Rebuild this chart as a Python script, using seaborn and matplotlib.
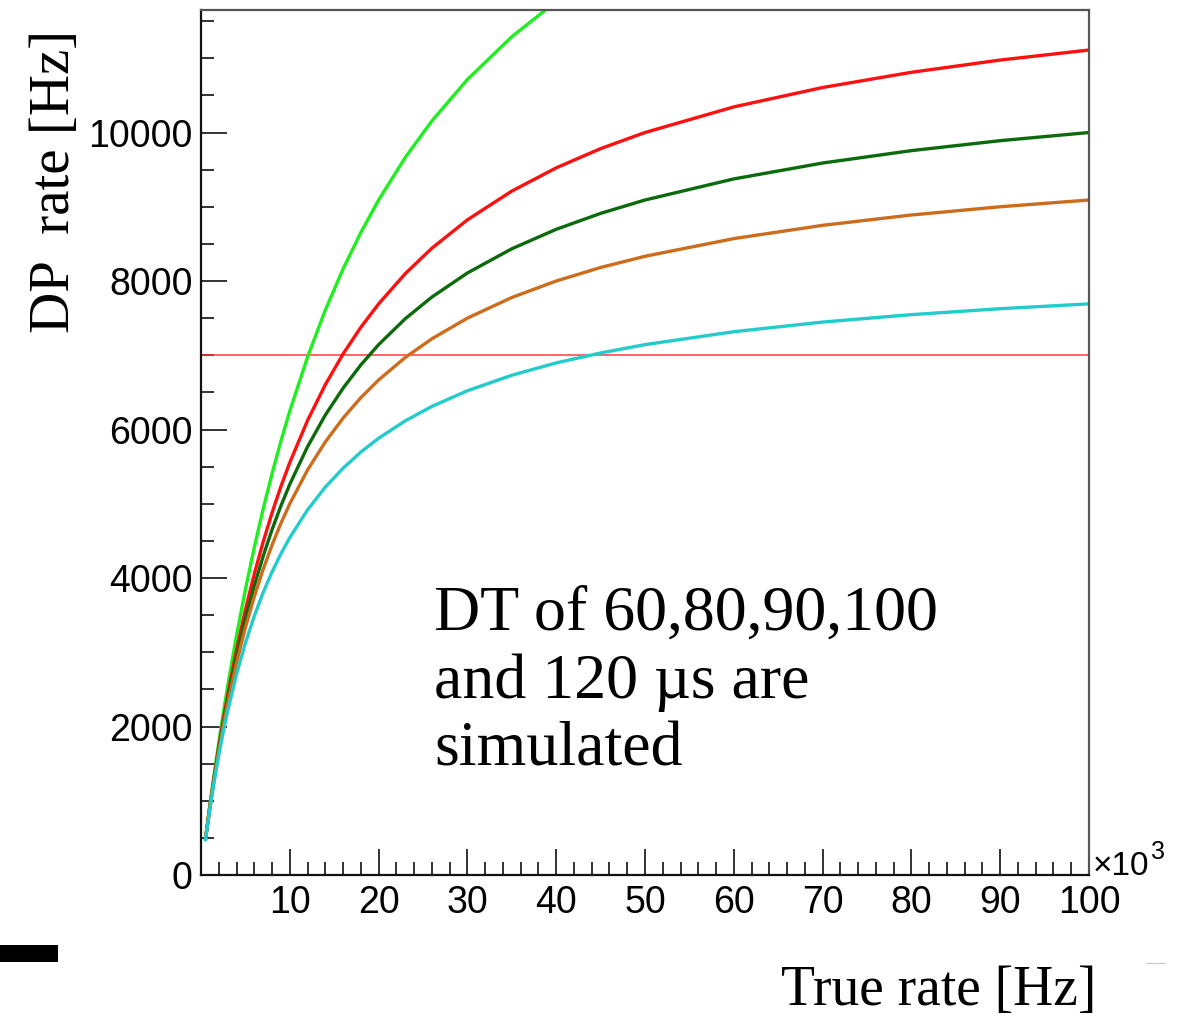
import matplotlib
matplotlib.use("Agg")
import matplotlib.pyplot as plt
from matplotlib.patches import Rectangle
from matplotlib.lines import Line2D
from matplotlib.ticker import FixedLocator
import seaborn as sns
import pandas as pd

# True rate (x 10^3 Hz)
true_rate_k = [0.5, 1, 1.5, 2, 2.5, 3, 4, 5, 6, 7, 8, 9, 10, 12, 14, 16, 18, 20, 23, 26,
               30, 35, 40, 45, 50, 60, 70, 80, 90, 100]

# DP rate [Hz]
dt_60 = [485, 943, 1376, 1786, 2174, 2542, 3226, 3846, 4412, 4930, 5405, 5844, 6250, 6977,
         7609, 8163, 8654, 9091, 9664, 10156, 10714, 11290, 11765, 12162, 12500, 13043,
         13462, 13793, 14063, 14286]
dt_80 = [481, 926, 1339, 1724, 2083, 2419, 3030, 3571, 4054, 4487, 4878, 5233, 5556, 6122,
         6604, 7018, 7377, 7692, 8099, 8442, 8824, 9211, 9524, 9783, 10000, 10345, 10606,
         10811, 10976, 11111]
dt_90 = [478, 917, 1322, 1695, 2041, 2362, 2941, 3448, 3896, 4294, 4651, 4972, 5263, 5769,
         6195, 6557, 6870, 7143, 7492, 7784, 8108, 8434, 8696, 8911, 9091, 9375, 9589, 9756,
         9890, 10000]
dt_100 = [476, 909, 1304, 1667, 2000, 2308, 2857, 3333, 3750, 4118, 4444, 4737, 5000, 5455,
          5833, 6154, 6429, 6667, 6970, 7222, 7500, 7778, 8000, 8182, 8333, 8571, 8750, 8889,
          9000, 9091]
dt_120 = [472, 893, 1271, 1613, 1923, 2206, 2703, 3125, 3488, 3804, 4082, 4327, 4545, 4918,
          5224, 5479, 5696, 5882, 6117, 6311, 6522, 6731, 6897, 7031, 7143, 7317, 7447, 7547,
          7627, 7692]

dt_labels = ["60 us", "80 us", "90 us", "100 us", "120 us"]
dt_series = [dt_60, dt_80, dt_90, dt_100, dt_120]
dt_colors = ["#1fef1f", "#ff1010", "#0b6a0b", "#cc6c1c", "#22cccc"]

threshold = 7000

y_major = [0, 2000, 4000, 6000, 8000, 10000]
x_major = [10, 20, 30, 40, 50, 60, 70, 80, 90, 100]

rows = []
for lab, ys in zip(dt_labels, dt_series):
    for x, y in zip(true_rate_k, ys):
        rows.append({"x": x, "y": y, "dt": lab})
df = pd.DataFrame(rows)

sns.set_style("ticks")
plt.rcParams["font.family"] = ["Liberation Sans", "DejaVu Sans"]
plt.rcParams["text.color"] = "black"

W, H = 1197, 1017
fig = plt.figure(figsize=(W / 100, H / 100), dpi=100)
fig.patch.set_facecolor("white")
ax = fig.add_axes([201 / W, (H - 875) / H, (1089 - 201) / W, (875 - 10) / H])

sns.lineplot(data=df, x="x", y="y", hue="dt", palette=dict(zip(dt_labels, dt_colors)),
             estimator=None, legend=False, linewidth=2.4, ax=ax, sort=True)
ax.axhline(threshold, color="#ff3030", linewidth=1.3, alpha=0.8, zorder=1)

ax.set_xlim(0, 100)
ax.set_ylim(0, 11650)
ax.set_xlabel("")
ax.set_ylabel("")

ax.xaxis.set_major_locator(FixedLocator(x_major))
ax.xaxis.set_minor_locator(FixedLocator([v for v in range(2, 100, 2) if v % 10 != 0]))
ax.yaxis.set_major_locator(FixedLocator(y_major))
ax.yaxis.set_minor_locator(FixedLocator([v for v in range(500, 11650, 500) if v % 2000 != 0]))
ax.set_xticklabels([str(v) for v in x_major])
ax.set_yticklabels([str(v) for v in y_major])

ax.tick_params(which="both", direction="in", top=False, right=False, colors="#111111",
               labelcolor="black")
ax.tick_params(which="major", length=19, width=1.2, labelsize=27, pad=6)
ax.tick_params(which="minor", length=9.5, width=1.2)
ax.tick_params(axis="x", which="major", pad=7)

for side in ["left", "bottom"]:
    ax.spines[side].set_linewidth(1.6)
    ax.spines[side].set_color("#111111")
for side in ["top", "right"]:
    ax.spines[side].set_visible(True)
    ax.spines[side].set_linewidth(1.6)
    ax.spines[side].set_color("#555555")

serif = ["Liberation Serif", "DejaVu Serif"]

# axis titles
fig.text(69 / W, 1 - 181 / H, "DP  rate [Hz]", rotation=90, ha="center", va="baseline",
         fontsize=41, family=serif, rotation_mode="anchor", color="black")
fig.text(1096 / W, 1 - 1005 / H, "True rate [Hz]", ha="right", va="baseline",
         fontsize=40, family=serif, color="black")

# exponent label
fig.text(1093 / W, 1 - 875 / H, "\u00d710", ha="left", va="baseline", fontsize=24, color="black")
fig.text(1151 / W, 1 - 859 / H, "3", ha="left", va="baseline", fontsize=18, color="black")

# annotation
for txt, yb in [("DT of 60,80,90,100", 630), ("and 120 \u00b5s are", 698), ("simulated", 765)]:
    fig.text(434 / W, 1 - yb / H, txt, ha="left", va="baseline", fontsize=46, family=serif,
             color="black")

# small black bar and faint mark
fig.add_artist(Rectangle((0, 1 - 962 / H), 58 / W, 17 / H, transform=fig.transFigure,
                         facecolor="black", edgecolor="none"))
fig.add_artist(Line2D([1146 / W, 1165 / W], [1 - 963 / H, 1 - 963 / H], transform=fig.transFigure,
                      color="#cccccc", linewidth=1))

fig.savefig("out.png", dpi=100, facecolor="white")
